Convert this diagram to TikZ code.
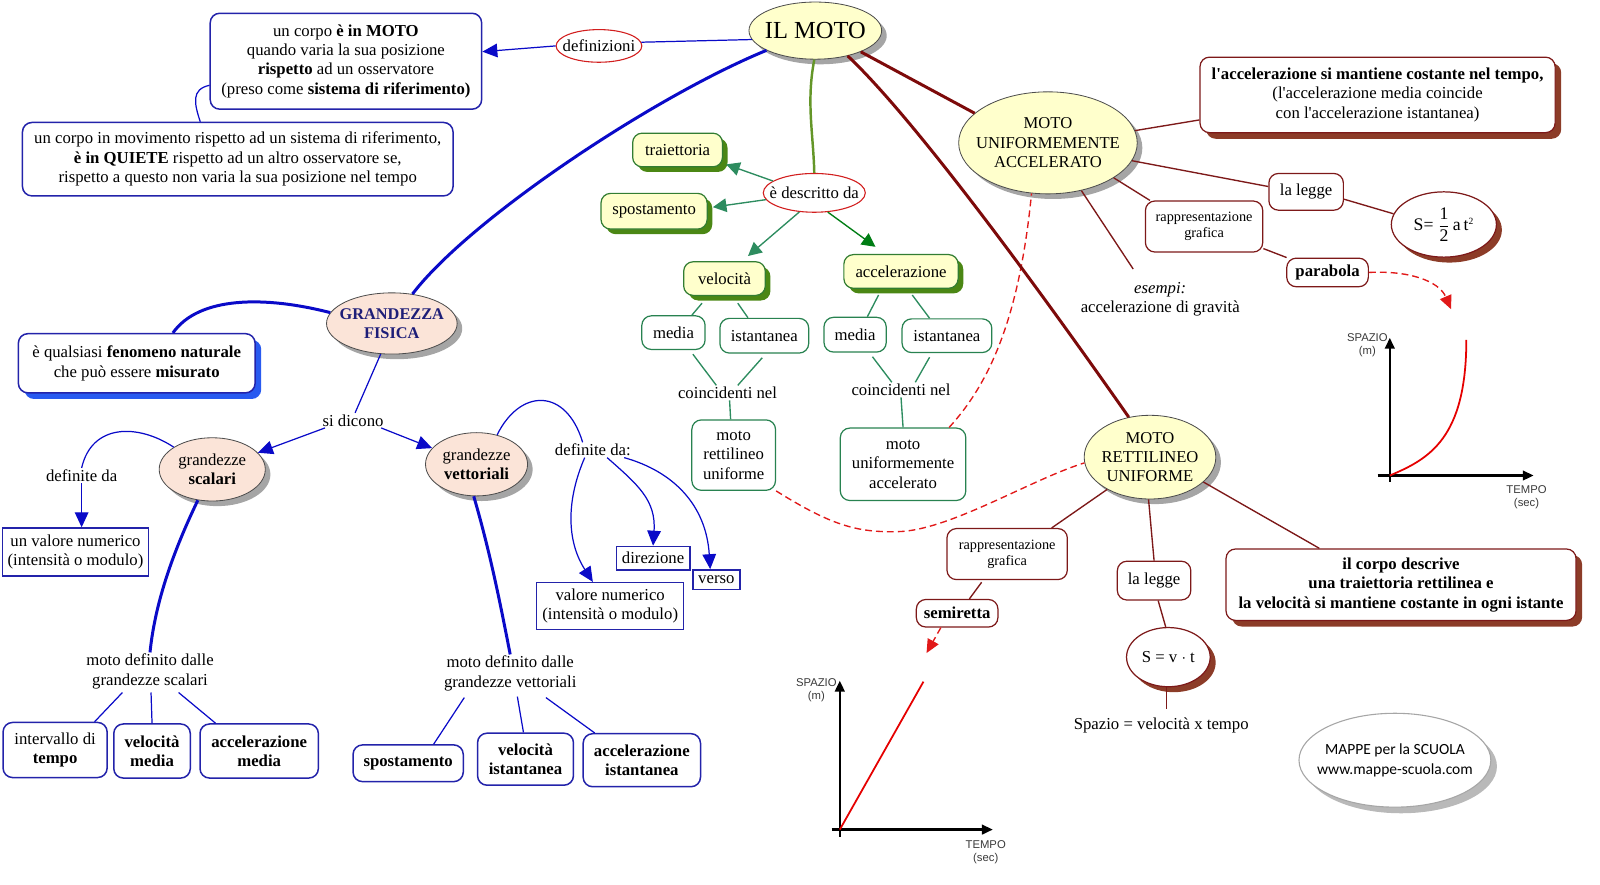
\documentclass[tikz,border=0pt]{standalone}
\usepackage{fontspec}
\setmainfont{Liberation Serif}[Ligatures=TeXOff]
\newfontfamily\wmfont{Carlito}
\newfontfamily\grfont{Liberation Sans}
\usetikzlibrary{shapes.geometric,arrows.meta,shadows,calc}
\definecolor{cblue}{RGB}{10,10,200}
\definecolor{cbbox}{RGB}{35,35,170}
\definecolor{cred}{RGB}{210,30,30}
\definecolor{cdash}{RGB}{225,25,25}
\definecolor{cteal}{RGB}{45,140,95}
\definecolor{cdgreen}{RGB}{0,125,20}
\definecolor{cgbord}{RGB}{50,125,50}
\definecolor{cgwb}{RGB}{40,130,80}
\definecolor{cgshad}{RGB}{75,135,20}
\definecolor{colive}{RGB}{100,150,40}
\definecolor{cyel}{RGB}{255,255,204}
\definecolor{cmar}{RGB}{125,10,10}
\definecolor{cmarl}{RGB}{125,25,25}
\definecolor{cbrsh}{RGB}{140,60,40}
\definecolor{cpink}{RGB}{251,228,216}
\definecolor{cnavy}{RGB}{30,30,120}
\definecolor{cgsh}{RGB}{165,165,165}
\definecolor{cbsh}{RGB}{40,90,240}
\begin{document}
\begin{tikzpicture}[x=0.75pt,y=-0.75pt,
  sz/.style 2 args={minimum width=#1*0.75pt,minimum height=#2*0.75pt},
  txt/.style={font=\fontsize{12.3}{14.25}\selectfont, align=center, inner sep=1pt},
  bold/.style={font=\fontsize{12.3}{14.25}\selectfont\bfseries},
  small/.style={font=\fontsize{10.5}{12}\selectfont},
  bbox/.style={txt, draw=cbbox, line width=1.1pt, rounded corners=7pt, fill=white},
  sbox/.style={txt, draw=cbbox, line width=1.1pt, fill=white},
  bbold/.style={bbox, bold},
  rell/.style={txt, ellipse, draw=cred, line width=0.8pt, fill=white, inner xsep=-30pt, inner ysep=-15pt},
  yell/.style={txt, ellipse, draw=gray!60!black, line width=0.6pt, fill=cyel, inner xsep=-30pt, inner ysep=-15pt, drop shadow={shadow xshift=3.75pt,shadow yshift=-3.75pt,fill=cgsh,opacity=1}},
  pell/.style={yell, fill=cpink},
  gbox/.style={txt, draw=cgbord, line width=0.9pt, rounded corners=7pt, fill=cyel, drop shadow={shadow xshift=3.75pt,shadow yshift=-3.75pt,fill=cgshad,opacity=1}},
  gwbox/.style={txt, draw=cgwb, line width=0.9pt, rounded corners=7pt, fill=white},
  mbox/.style={txt, draw=cmarl, line width=0.9pt, rounded corners=7pt, fill=white},
  mshbox/.style={mbox, drop shadow={shadow xshift=4.5pt,shadow yshift=-4.5pt,fill=cbrsh,opacity=1}},
  msell/.style={txt, ellipse, draw=cmarl, line width=0.9pt, fill=white, inner xsep=-30pt, inner ysep=-15pt, drop shadow={shadow xshift=4pt,shadow yshift=-4pt,fill=cbrsh,opacity=1}},
  bl/.style={draw=cblue, line width=0.9pt},
  blt/.style={draw=cblue, line width=2.2pt},
  barr/.style={bl, -{Triangle[length=11pt,width=10pt]}},
  gl/.style={draw=cteal, line width=1pt},
  garr/.style={gl, -{Triangle[length=10pt,width=10pt]}},
  ml/.style={draw=cmarl, line width=1pt},
  mlt/.style={draw=cmar, line width=2.2pt},
  rdash/.style={draw=cdash, line width=1pt, dash pattern=on 5pt off 3pt},
  rarr/.style={rdash, -{Triangle[length=10pt,width=9pt]}},
  axis/.style={draw=black, line width=1.8pt, -{Triangle[length=8pt,width=7pt]}},
  redline/.style={draw=red!90!black, line width=1.3pt},
  glab/.style={font=\grfont\fontsize{8.3}{9.5}\selectfont, text=gray!45!black, align=center, inner sep=0pt},
]
\useasboundingbox (0,0) rectangle (1568,867);

% ---------- top left ----------
\node[bbox, sz={266}{94}] (b1) at (339,60) {un corpo \textbf{è in MOTO}\\quando varia la sua posizione\\\textbf{rispetto} ad un osservatore\\(preso come \textbf{sistema di riferimento)}};
\node[bbox, sz={422}{72}] (b2) at (233,156) {un corpo in movimento rispetto ad un sistema di riferimento,\\\textbf{è in QUIETE} rispetto ad un altro osservatore se,\\rispetto a questo non varia la sua posizione nel tempo};
\node[rell, sz={84}{32}] (def) at (587,45) {definizioni};
\node[yell, sz={130}{56}, font=\fontsize{18}{20}\selectfont] (moto) at (799,30) {IL MOTO};

% ---------- grandezza fisica ----------
\node[bbox, sz={232}{58}, drop shadow={shadow xshift=4.5pt,shadow yshift=-4.5pt,fill=cbsh,opacity=1}] (feno) at (134,356) {è qualsiasi \textbf{fenomeno naturale}\\che può essere \textbf{misurato}};
\node[pell, sz={128}{60}, font=\fontsize{12}{14.25}\selectfont\bfseries, text=cnavy] (gf) at (384,317) {GRANDEZZA\\FISICA};
\node[txt] (sid) at (346,412) {si dicono};
\node[pell, sz={104}{62}] (gs) at (208,460) {grandezze\\\textbf{scalari}};
\node[pell, sz={100}{62}] (gv) at (467,455) {grandezze\\\textbf{vettoriali}};
\node[txt] (dfs) at (80,466) {definite da};
\node[sbox, sz={143}{47}] (vn1) at (74,541) {un valore numerico\\(intensità o modulo)};
\node[txt] (mds) at (147,658) {moto definito dalle\\grandezze scalari};
\node[bbox, sz={102}{54}] (bit) at (54,735) {intervallo di\\\textbf{tempo}};
\node[bbold, sz={75}{53}] (bvm) at (149,736) {velocità\\media};
\node[bbold, sz={116}{53}] (bam) at (254,736) {accelerazione\\media};
\node[txt] (dfv) at (581,441) {definite da:};
\node[sbox, sz={72}{23}] (dir) at (640,547) {direzione};
\node[sbox, sz={46}{19}] (ver) at (702,568) {verso};
\node[sbox, sz={144}{46}] (vn2) at (598,594) {valore numerico\\(intensità o modulo)};
\node[txt] (mdv) at (500,660) {moto definito dalle\\grandezze vettoriali};
\node[bbold, sz={108}{36}] (bsp) at (400,748) {spostamento};
\node[bbold, sz={94}{51}] (bvi) at (515,744) {velocità\\istantanea};
\node[bbold, sz={115}{52}] (bai) at (629,745) {accelerazione\\istantanea};

% ---------- green part ----------
\node[rell, sz={100}{38}] (descr) at (798,189) {è descritto da};
\node[gbox, sz={88}{33}] (traj) at (664,147) {traiettoria};
\node[gbox, sz={104}{35}] (spo) at (641,207) {spostamento};
\node[gbox, sz={80}{33}] (vel) at (710,273) {velocità};
\node[gbox, sz={112}{33}] (acc) at (883,266) {accelerazione};
\node[gwbox, sz={62}{33}] (vm) at (660,326) {media};
\node[gwbox, sz={87}{34}] (vi) at (749,329) {istantanea};
\node[gwbox, sz={61}{34}] (am) at (838,328) {media};
\node[gwbox, sz={88}{33}] (ai) at (928,329) {istantanea};
\node[txt] (c1) at (713,385) {coincidenti nel};
\node[txt] (c2) at (883,382) {coincidenti nel};
\node[gwbox, sz={82}{69}] (mrus) at (719,446) {moto\\rettilineo\\uniforme};
\node[gwbox, sz={123}{71}] (muas) at (885,455) {moto\\uniformemente\\accelerato};

% ---------- maroon part ----------
\node[yell, sz={175}{100}, font=\fontsize{12.2}{14.25}\selectfont] (mua) at (1027,140) {MOTO\\UNIFORMEMENTE\\ACCELERATO};
\node[mshbox, sz={348}{74}] (mb1) at (1350,93) {\textbf{l'accelerazione si mantiene costante nel tempo,}\\(l'accelerazione media coincide\\con l'accelerazione istantanea)};
\node[mbox, sz={73}{36}] (leg1) at (1280,188) {la legge};
\node[msell, sz={103}{64}, font=\fontsize{13}{15}\selectfont] (s1) at (1415,220) {S= $\displaystyle\frac{\mbox{1}}{\mbox{2}}$\,a\,t$^{\mbox{\scriptsize 2}}$};
\node[mbox, sz={115}{50}, small] (rg1) at (1180,222) {rappresentazione\\grafica};
\node[mbox, sz={80}{28}, bold] (par) at (1301,267) {parabola};
\node[txt] (es) at (1137,293) {\textit{esempi:}\\accelerazione di gravità};
\node[yell, sz={129}{82}, font=\fontsize{12.2}{14.25}\selectfont] (mru) at (1127,448) {MOTO\\RETTILINEO\\UNIFORME};
\node[mbox, sz={118}{50}, small] (rg2) at (987,543) {rappresentazione\\grafica};
\node[mbox, sz={80}{27}, bold] (semi) at (938,601) {semiretta};
\node[mbox, sz={72}{38}] (leg2) at (1131,569) {la legge};
\node[msell, sz={82}{58}] (s2) at (1145,644) {S = v $\cdot$ t};
\node[txt, inner sep=6pt] (spz) at (1138,711) {Spazio = velocità x tempo};
\node[mshbox, sz={343}{70}, bold] (mb2) at (1373,573) {il corpo descrive\\una traiettoria rettilinea e\\la velocità si mantiene costante in ogni istante};

% watermark
\node[ellipse, draw=gray!70, line width=0.8pt, fill=white, sz={188}{92}, inner xsep=-30pt, inner ysep=-15pt, font=\wmfont\fontsize{11.4}{14.25}\selectfont, align=center, drop shadow={shadow xshift=4.5pt,shadow yshift=-4.5pt,fill=gray!55,opacity=1}] (wm) at (1367,745) {MAPPE per la SCUOLA\\www.mappe-scuola.com};

% ---------- graphs ----------
\coordinate (g1tip) at (1422,303);
\coordinate (g2tip) at (908,640);
\draw[axis] (1362,472) -- (1362,331);
\draw[axis] (1350,466) -- (1503,466);
\draw[redline] (1362,466) .. controls (1400,450) and (1437,430) .. (1437,333);
\node[glab] (sp1) at (1340,338) {SPAZIO\\(m)};
\node[glab] (tp1) at (1496,487) {TEMPO\\(sec)};
\draw[axis] (823,820) -- (823,667);
\draw[axis] (815,813) -- (973,813);
\draw[redline] (823,813) -- (905,668);
\node[glab] (sp2) at (800,676) {SPAZIO\\(m)};
\node[glab] (tp2) at (966,835) {TEMPO\\(sec)};

% ---------- connectors: blue ----------
\draw[bl] (moto.188) -- (def.5);
\draw[barr] (def.west) -- (b1.4);
\draw[bl] (b1.190) .. controls +(-18,4) and +(-6,-18) .. (b2.135);
\draw[blt] (moto.202) .. controls (640,95) and (460,215) .. (gf.55);
\draw[blt] (gf.170) .. controls (260,290) and (195,290) .. (feno.40);
\draw[bl] (gf.250) -- (sid.75);
\draw[barr] (sid.195) -- (gs.20);
\draw[barr] (sid.345) -- (gv.160);
\draw[bl] (gs.150) .. controls (135,415) and (90,415) .. (dfs.north);
\draw[barr] (dfs.south) -- (dfs.south |- vn1.north);
\draw[blt] (gs.245) .. controls (170,540) and (152,590) .. (mds.north);
\draw[bl] ($(mds.south)+(-27,2)$) -- ($(bit.north east)+(-13,0)$);
\draw[bl] ($(mds.south)+(1,2)$) -- (bvm.north);
\draw[bl] ($(mds.south)+(28,2)$) -- ($(bam.north west)+(16,0)$);
\draw[bl] (gv.55) .. controls (510,380) and (555,380) .. ($(dfv.north)+(-10,0)$);
\draw[barr] ($(dfv.south)+(-8,0)$) .. controls (555,490) and (555,530) .. ($(vn2.north)+(-17,0)$);
\draw[barr] ($(dfv.south)+(14,0)$) .. controls (625,475) and (643,490) .. (dir.north);
\draw[barr] ($(dfv.south east)+(-8,0)$) .. controls (660,462) and (692,495) .. ($(ver.north)+(-6,0)$);
\draw[blt] (gv.265) .. controls (480,540) and (490,590) .. (mdv.north);
\draw[bl] ($(mdv.south)+(-45,5)$) -- ($(bsp.north)+(25,0)$);
\draw[bl] ($(mdv.south)+(7,4)$) -- ($(bvi.north)+(-2,0)$);
\draw[bl] ($(mdv.south)+(35,5)$) -- ($(bai.north west)+(12,0)$);

% ---------- connectors: green ----------
\draw[draw=colive, line width=1.8pt] (moto.268) .. controls (790,100) and (797,130) .. (descr.north);
\draw[garr] (descr.164) -- ($(traj.south east)+(3,-3)$);
\draw[garr] (descr.188) -- ($(spo.east)+(5,-4)$);
\draw[garr] (descr.232) -- ($(vel.north)+(23,-5)$);
\draw[gl, draw=cdgreen, -{Triangle[length=10pt,width=10pt]}] (descr.305) -- ($(acc.north)+(-25,-7)$);
\draw[gl] ($(vel.south)+(-22,7)$) -- ($(vm.north)+(18,0)$);
\draw[gl] ($(vel.south)+(13,7)$) -- ($(vi.north)+(-16,0)$);
\draw[gl] ($(vm.south)+(19,4)$) -- ($(c1.north)+(-11,0)$);
\draw[gl] ($(vi.south)+(-2,4)$) -- ($(c1.north)+(10,0)$);
\draw[gl] ($(c1.south)+(2,0)$) -- ($(mrus.north)+(-3,0)$);
\draw[gl] ($(acc.south)+(-22,6)$) -- ($(am.north)+(12,0)$);
\draw[gl] ($(acc.south)+(11,6)$) -- ($(ai.north)+(-17,0)$);
\draw[gl] ($(am.south)+(17,4)$) -- ($(c2.north)+(-9,0)$);
\draw[gl] ($(ai.south)+(-17,4)$) -- ($(c2.north)+(14,0)$);
\draw[gl] (c2.south) -- (muas.north);

% ---------- red dashed ----------
\draw[rdash] (mrus.south east) .. controls (815,515) and (840,522) .. (880,521) .. controls (930,520) and (1010,470) .. (mru.185);
\draw[rdash] ($(muas.north east)+(-17,0)$) .. controls (975,370) and (1000,300) .. (mua.252);
\draw[rarr] (par.east) .. controls (1380,265) and (1410,275) .. (g1tip);
\draw[rarr] ($(semi.south)+(-16,0)$) -- (g2tip);

% ---------- connectors: maroon ----------
\draw[mlt] (moto.-25) -- (mua.158);
\draw[mlt] (moto.-38) .. controls (900,120) and (1030,300) .. (mru.118);
\draw[ml] (mua.8) -- (mb1.188);
\draw[ml] (mua.-12) -- (leg1.172);
\draw[ml] (leg1.-11) -- (s1.168);
\draw[ml] (mua.-28) -- ($(rg1.north west)+(5,0)$);
\draw[ml] ($(rg1.south east)+(0,-4)$) -- (par.160);
\draw[ml] (mua.-55) -- ($(es.north west)+(53,-11)$);
\draw[ml] (mru.217) -- ($(rg2.north east)+(-16,0)$);
\draw[ml] ($(rg2.south)+(-25,2)$) -- ($(semi.north)+(12,0)$);
\draw[ml] (mru.268) -- (leg2.north);
\draw[ml] ($(leg2.south)+(4,0)$) -- (s2.95);
\draw[ml] (s2.266) -- (s2.266 |- spz.north);
\draw[ml] (mru.-25) -- ($(mb2.north)+(-80,0)$);
\end{tikzpicture}
\end{document}
